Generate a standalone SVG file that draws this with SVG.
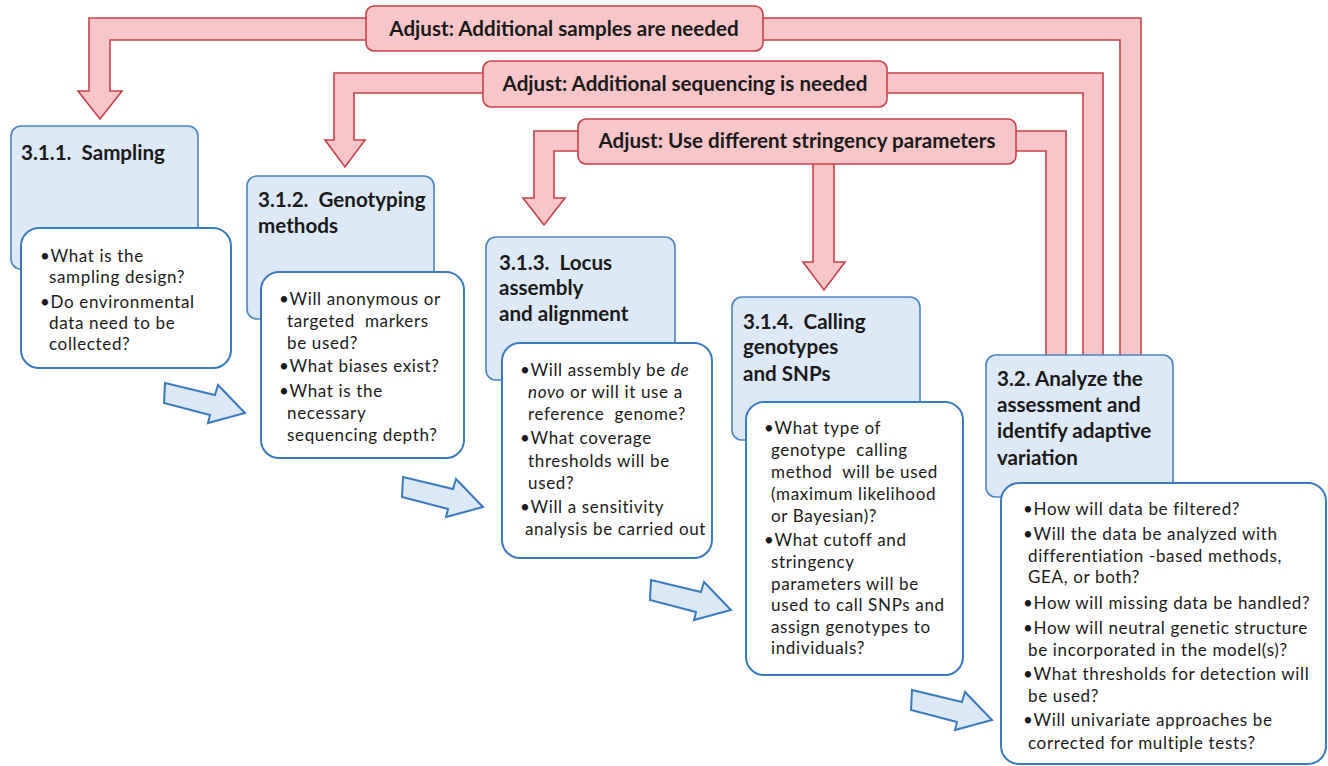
<svg xmlns="http://www.w3.org/2000/svg" width="1328" height="766" viewBox="0 0 1328 766">
<style>
.band{fill:#f8c5c9;stroke:#c9404a;stroke-width:1.6;stroke-linejoin:miter}
.lbl{fill:#f8c5c9;stroke:#c9404a;stroke-width:1.6}
.lt{font-family:Lato,"Liberation Sans",sans-serif;font-weight:bold;font-size:20.6px;fill:#1a1a1a;text-anchor:middle}
.tb{fill:#dde9f6;stroke:#4a85c4;stroke-width:1.6}
.db{fill:#ffffff;stroke:#3a7bc0;stroke-width:2}
.tt{font-family:Lato,"Liberation Sans",sans-serif;font-weight:bold;font-size:20.6px;fill:#1a1a1a}
.dt{font-family:Lato,"Liberation Sans",sans-serif;font-size:17px;fill:#1a1a1a;letter-spacing:0.65px}
.ba{fill:#dbe8f5;stroke:#3a7bc0;stroke-width:2;stroke-linejoin:miter}
</style>
<defs>
<polygon id="barrow" points="0,0 50,12 53,2 80,30 43,40 45,32 -1,20"/>
</defs>
<g id="connectors">
<polygon class="band" points="89,18 1141,18 1141,356 1120,356 1120,40 110,40 110,91 122,91 100,119 78,91 89,91"/>
<polygon class="band" points="334,73 1103,73 1103,356 1083,356 1083,93 354,93 354,140 365,140 345,167 325,140 334,140"/>
<polygon class="band" points="534,131 1066,131 1066,356 1046,356 1046,151 554,151 554,198 565,198 544,225 523,198 534,198"/>
<polygon class="band" points="813,160 834,160 834,262 845,262 824,290 803,262 813,262"/>
<g id="adjust-samples"><rect class="lbl" x="366" y="6" width="397" height="45" rx="8"/><text class="lt" x="564" y="36">Adjust: Additional samples are needed</text></g>
<g id="adjust-sequencing"><rect class="lbl" x="483" y="61" width="404" height="46" rx="8"/><text class="lt" x="685" y="91">Adjust: Additional sequencing is needed</text></g>
<g id="adjust-stringency"><rect class="lbl" x="578" y="119" width="438" height="45" rx="8"/><text class="lt" x="797" y="148">Adjust: Use different stringency parameters</text></g>
<use href="#barrow" class="ba" x="165" y="383"/>
<use href="#barrow" class="ba" x="403" y="477"/>
<use href="#barrow" class="ba" x="651" y="580"/>
<use href="#barrow" class="ba" x="912" y="690"/>
</g>
<g id="node-311">
<rect class="tb" x="11" y="126" width="187" height="143" rx="10"/>
<text class="tt" x="21" y="160">3.1.1.&#160; Sampling</text>
<rect class="db" x="21" y="228" width="210" height="140" rx="18"/>
<text class="dt"><tspan x="40" y="262">•What is the</tspan><tspan x="49" y="283">sampling design?</tspan><tspan x="40" y="308">•Do environmental</tspan><tspan x="49" y="329">data need to be</tspan><tspan x="49" y="350">collected?</tspan></text>
</g>
<g id="node-312">
<rect class="tb" x="247" y="176" width="187" height="143" rx="10"/>
<text class="tt"><tspan x="258" y="207">3.1.2.&#160; Genotyping</tspan><tspan x="258" y="233">methods</tspan></text>
<rect class="db" x="261" y="272" width="203" height="186" rx="18"/>
<text class="dt"><tspan x="279" y="305">•Will anonymous or</tspan><tspan x="287" y="327">targeted&#160; markers</tspan><tspan x="287" y="349">be used?</tspan><tspan x="279" y="372">•What biases exist?</tspan><tspan x="279" y="397">•What is the</tspan><tspan x="287" y="419">necessary</tspan><tspan x="287" y="441">sequencing depth?</tspan></text>
</g>
<g id="node-313">
<rect class="tb" x="486" y="237" width="189" height="143" rx="10"/>
<text class="tt"><tspan x="499" y="270">3.1.3.&#160; Locus</tspan><tspan x="499" y="295">assembly</tspan><tspan x="499" y="321">and alignment</tspan></text>
<rect class="db" x="502" y="343" width="210" height="215" rx="18"/>
<text class="dt"><tspan x="520" y="376">•Will assembly be </tspan><tspan font-style="italic">de</tspan><tspan x="528" y="398" font-style="italic">novo</tspan><tspan> or will it use a</tspan><tspan x="528" y="420">reference&#160; genome?</tspan><tspan x="520" y="444">•What coverage</tspan><tspan x="528" y="467">thresholds will be</tspan><tspan x="528" y="489">used?</tspan><tspan x="520" y="513">•Will a sensitivity</tspan><tspan x="525" y="535">analysis be carried out</tspan></text>
</g>
<g id="node-314">
<rect class="tb" x="732" y="297" width="188" height="143" rx="10"/>
<text class="tt"><tspan x="743" y="329">3.1.4.&#160; Calling</tspan><tspan x="743" y="354">genotypes</tspan><tspan x="743" y="381">and SNPs</tspan></text>
<rect class="db" x="746" y="402" width="217" height="273" rx="18"/>
<text class="dt"><tspan x="764" y="434">•What type of</tspan><tspan x="771" y="456">genotype&#160; calling</tspan><tspan x="771" y="478">method&#160; will be used</tspan><tspan x="771" y="500">(maximum likelihood</tspan><tspan x="771" y="522">or Bayesian)?</tspan><tspan x="764" y="546">•What cutoff and</tspan><tspan x="771" y="568">stringency</tspan><tspan x="771" y="590">parameters will be</tspan><tspan x="771" y="611">used to call SNPs and</tspan><tspan x="771" y="633">assign genotypes to</tspan><tspan x="771" y="654">individuals?</tspan></text>
</g>
<g id="node-32">
<rect class="tb" x="986" y="355" width="187" height="142" rx="10"/>
<text class="tt"><tspan x="997" y="386">3.2. Analyze the</tspan><tspan x="997" y="412">assessment and</tspan><tspan x="997" y="438">identify adaptive</tspan><tspan x="997" y="465">variation</tspan></text>
<rect class="db" x="1001" y="483" width="325" height="281" rx="18"/>
<text class="dt"><tspan x="1023" y="515">•How will data be filtered?</tspan><tspan x="1023" y="540">•Will the data be analyzed with</tspan><tspan x="1028" y="562">differentiation -based methods,</tspan><tspan x="1028" y="583">GEA, or both?</tspan><tspan x="1023" y="609">•How will missing data be handled?</tspan><tspan x="1023" y="634">•How will neutral genetic structure</tspan><tspan x="1028" y="656">be incorporated in the model(s)?</tspan><tspan x="1023" y="680">•What thresholds for detection will</tspan><tspan x="1028" y="702">be used?</tspan><tspan x="1023" y="726">•Will univariate approaches be</tspan><tspan x="1028" y="749">corrected for multiple tests?</tspan></text>
</g>
</svg>
